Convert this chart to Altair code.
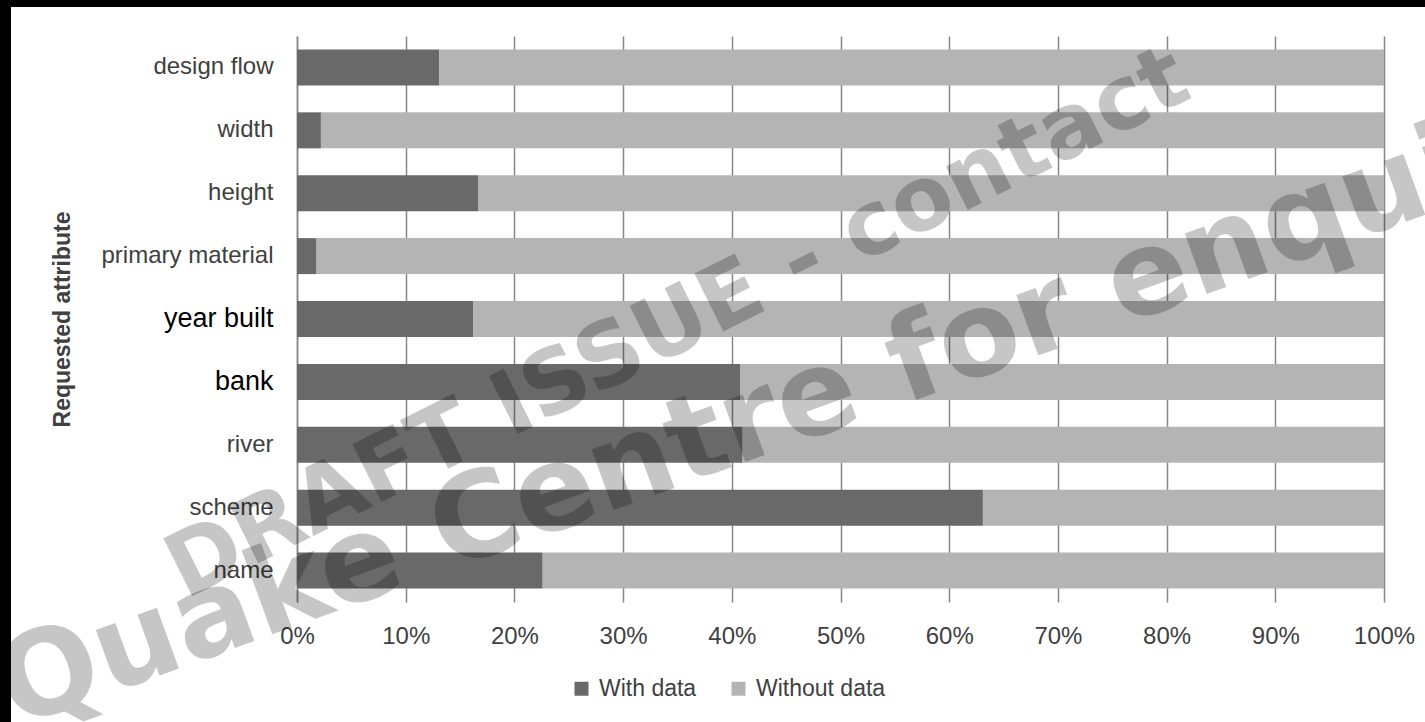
import altair as alt
import pandas as pd

# ---- data ----
attributes = ["design flow", "width", "height", "primary material", "year built",
              "bank", "river", "scheme", "name"]
with_data = [13.1, 2.2, 16.7, 1.8, 16.2, 40.8, 41.0, 63.1, 22.6]
without_data = [round(100 - v, 1) for v in with_data]
series = ["With data", "Without data"]
tick_values = [0, 10, 20, 30, 40, 50, 60, 70, 80, 90, 100]

rows = []
for a, w, wo in zip(attributes, with_data, without_data):
    rows.append({"attribute": a, "status": series[0], "pct": w / 100, "ord": 0})
    rows.append({"attribute": a, "status": series[1], "pct": wo / 100, "ord": 1})
df = pd.DataFrame(rows)

W, H = 1087, 566
LEFT, TOP = 297, 36

bars = alt.Chart(df).mark_bar(size=36).encode(
    y=alt.Y("attribute:N", sort=attributes,
            axis=alt.Axis(
                title="Requested attribute",
                titleFont="Liberation Sans", titleFontSize=23, titleFontWeight="bold",
                titleColor="#404040", titleAngle=270, titleX=-235, titleY=H / 2,
                titleAlign="center", titleBaseline="middle",
                labelFont="Liberation Sans",
                labelFontSize={"condition": {"test": "indexof(['year built','bank'], datum.value) >= 0", "value": 27}, "value": 24},
                labelColor={"condition": {"test": "indexof(['year built','bank'], datum.value) >= 0", "value": "#000000"}, "value": "#404040"},
                labelExpr="datum.value == 'bank' ? 'bank\u00a0' : datum.value",
                labelPadding=24, ticks=False, domainColor="#868686", domainWidth=1.5,
                grid=False)),
    x=alt.X("pct:Q", stack="zero", scale=alt.Scale(domain=[0, 1], nice=False),
            axis=alt.Axis(title=None, format=".0%", values=[v / 100 for v in tick_values],
                          labelFont="Liberation Sans", labelFontSize=24, labelColor="#404040",
                          labelPadding=22, labelFlush=False, labelBound=False,
                          ticks=False, domain=False,
                          grid=True, gridColor="#868686", gridWidth=1.5)),
    color=alt.Color("status:N", scale=alt.Scale(domain=series, range=["#696969", "#b4b4b4"]),
                    legend=alt.Legend(title=None, orient="none", direction="horizontal",
                                      legendX=273, legendY=641, padding=0,
                                      symbolType="square", symbolSize=196, symbolStrokeWidth=0,
                                      symbolOpacity=1,
                                      labelFont="Liberation Sans", labelFontSize=23,
                                      labelColor="#404040", labelOffset=6, columnPadding=30)),
    order=alt.Order("ord:Q"),
)

one = pd.DataFrame({"k": [0]})

wm1 = alt.Chart(one).mark_text(
    text="DRAFT ISSUE - contact", font="DejaVu Sans", fontWeight="bold",
    fontSize=89, angle=333.5, align="left", baseline="alphabetic",
    color="#000000", opacity=0.22,
).encode(x=alt.value(185 - LEFT), y=alt.value(600 - TOP))

wm2 = alt.Chart(one).mark_text(
    text="Quake Centre for enquiries", font="DejaVu Sans", fontWeight="bold",
    fontSize=118, angle=340, align="left", baseline="alphabetic",
    color="#000000", opacity=0.22,
).encode(x=alt.value(15 - LEFT), y=alt.value(728 - TOP))

frame_top = alt.Chart(one).mark_rect(color="#000000").encode(
    x=alt.value(-LEFT), x2=alt.value(1425 - LEFT), y=alt.value(-TOP), y2=alt.value(7 - TOP))
frame_left = alt.Chart(one).mark_rect(color="#000000").encode(
    x=alt.value(-LEFT), x2=alt.value(11 - LEFT), y=alt.value(-TOP), y2=alt.value(722 - TOP))

chart = alt.layer(bars, wm1, wm2, frame_top, frame_left).properties(
    width=W, height=H,
    autosize=alt.AutoSizeParams(type="none"),
    padding={"left": LEFT, "top": TOP, "right": 1425 - LEFT - W, "bottom": 722 - TOP - H},
    background="#ffffff",
).configure_view(stroke=None)

chart.save("out.html", embed_options={"renderer": "svg", "actions": False})
